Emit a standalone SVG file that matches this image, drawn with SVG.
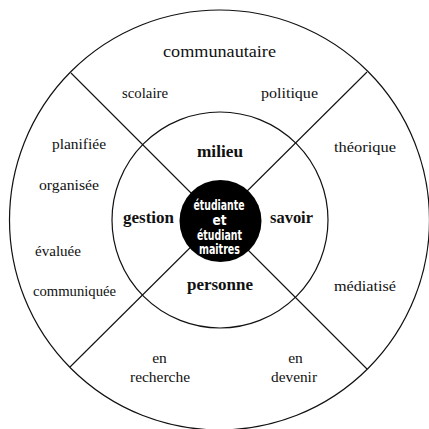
<svg xmlns="http://www.w3.org/2000/svg" width="429" height="429" viewBox="0 0 429 429">
<style>
.ring{fill:none;stroke:#111;stroke-width:1.2}
.div{stroke:#111;stroke-width:1.1}
.o{font-family:"Liberation Serif","DejaVu Serif",serif;font-size:15.5px;fill:#111;text-anchor:middle}
.i{font-family:"Liberation Serif","DejaVu Serif",serif;font-size:17px;font-weight:bold;fill:#111;text-anchor:middle}
.c{font-family:"DejaVu Sans Condensed","DejaVu Sans",sans-serif;font-size:13.5px;font-weight:bold;fill:#fff;text-anchor:middle}
</style>
<rect width="429" height="429" fill="#fff"/>
<g id="rings">
<circle class="ring" cx="219.5" cy="220" r="210"/>
<circle class="ring" cx="220" cy="220" r="108"/>
</g>
<g id="connectors">
<line class="div" x1="71" y1="73" x2="367" y2="369"/>
<line class="div" x1="367" y1="72" x2="70" y2="367"/>
</g>
<g id="outer">
<text class="o" x="219.5" y="57" style="font-size:17.5px" textLength="113" lengthAdjust="spacingAndGlyphs">communautaire</text>
<text class="o" x="145" y="98" textLength="46" lengthAdjust="spacingAndGlyphs">scolaire</text>
<text class="o" x="289.5" y="97.5" textLength="57" lengthAdjust="spacingAndGlyphs">politique</text>
<text class="o" x="79" y="149" textLength="54" lengthAdjust="spacingAndGlyphs">planifiée</text>
<text class="o" x="69" y="190" textLength="60" lengthAdjust="spacingAndGlyphs">organisée</text>
<text class="o" x="365" y="152" textLength="62" lengthAdjust="spacingAndGlyphs">théorique</text>
<text class="o" x="58" y="256" textLength="46" lengthAdjust="spacingAndGlyphs">évaluée</text>
<text class="o" x="74.5" y="296" style="font-size:14.5px" textLength="83" lengthAdjust="spacingAndGlyphs">communiquée</text>
<text class="o" x="365" y="291" textLength="62" lengthAdjust="spacingAndGlyphs">médiatisé</text>
<text class="o" x="159.5" y="363">en</text>
<text class="o" x="160" y="382" textLength="60" lengthAdjust="spacingAndGlyphs">recherche</text>
<text class="o" x="295.5" y="363">en</text>
<text class="o" x="294" y="382" textLength="46" lengthAdjust="spacingAndGlyphs">devenir</text>
</g>
<g id="inner">
<text class="i" x="220" y="157" textLength="46" lengthAdjust="spacingAndGlyphs">milieu</text>
<text class="i" x="148.5" y="223" textLength="51" lengthAdjust="spacingAndGlyphs">gestion</text>
<text class="i" x="291.5" y="223" textLength="43" lengthAdjust="spacingAndGlyphs">savoir</text>
<text class="i" x="220" y="290" textLength="66" lengthAdjust="spacingAndGlyphs">personne</text>
</g>
<g id="center">
<circle cx="220.5" cy="221" r="41" fill="#000"/>
<text class="c" x="219" y="210" textLength="51" lengthAdjust="spacingAndGlyphs">étudiante</text>
<text class="c" x="219.5" y="224.5">et</text>
<text class="c" x="219.5" y="239.5" textLength="45" lengthAdjust="spacingAndGlyphs">étudiant</text>
<text class="c" x="219.5" y="254" textLength="41" lengthAdjust="spacingAndGlyphs">maitres</text>
</g>
</svg>
